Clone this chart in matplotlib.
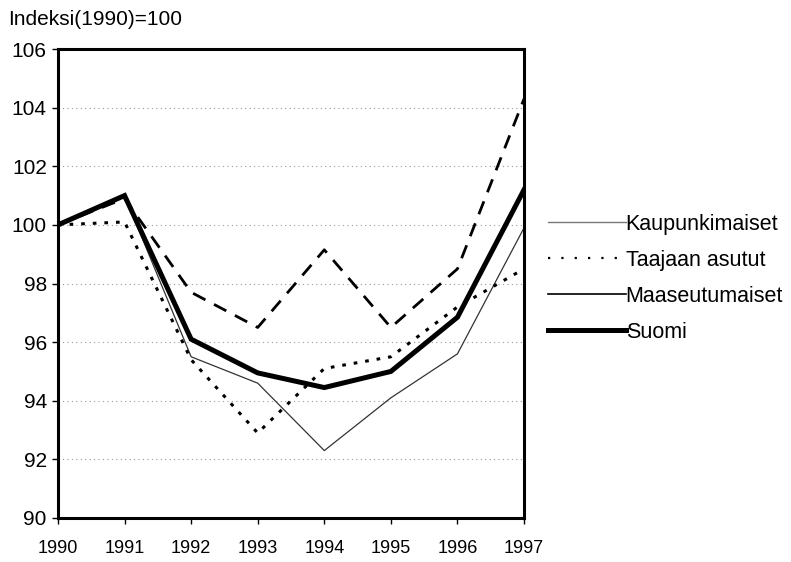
import matplotlib
matplotlib.use("Agg")
import matplotlib.pyplot as plt
from matplotlib.lines import Line2D

years = [1990, 1991, 1992, 1993, 1994, 1995, 1996, 1997]
kaupunkimaiset = [100.0, 101.0, 95.5, 94.6, 92.3, 94.1, 95.6, 99.9]
taajaan_asutut = [100.0, 100.1, 95.4, 92.9, 95.1, 95.5, 97.2, 98.5]
maaseutumaiset = [100.0, 100.9, 97.7, 96.5, 99.15, 96.5, 98.5, 104.3]
suomi = [100.0, 101.0, 96.1, 94.95, 94.45, 95.0, 96.85, 101.2]
labels = ["Kaupunkimaiset", "Taajaan asutut", "Maaseutumaiset", "Suomi"]
yticks = [90, 92, 94, 96, 98, 100, 102, 104, 106]

fig = plt.figure(figsize=(7.91, 5.62), dpi=100)
ax = fig.add_axes([0.0733, 0.0783, 0.5892, 0.8345])

for y in yticks[1:-1]:
    ax.axhline(y, color="#999999", lw=0.8, ls=(0, (1, 3)), zorder=0)

ax.plot(years, kaupunkimaiset, color="#333333", lw=0.9, zorder=2)
ax.plot(years, taajaan_asutut, color="black", lw=2.2, ls=(0, (1.2, 2.6)), zorder=3)
ax.plot(years, maaseutumaiset, color="black", lw=2.0, ls=(0, (5, 3.5)), zorder=3)
ax.plot(years, suomi, color="black", lw=3.6, zorder=4, solid_joinstyle="miter")

ax.set_xlim(1990, 1997)
ax.set_ylim(90, 106)
ax.set_yticks(yticks)
ax.set_xticks(years)
ax.set_yticklabels([str(v) for v in yticks], fontsize=15, fontfamily="Liberation Sans")
ax.set_xticklabels([str(v) for v in years], fontsize=13,
                   fontfamily=["Liberation Sans Narrow", "Liberation Sans"])
ax.tick_params(axis="y", direction="out", length=4, width=1, pad=4)
ax.tick_params(axis="x", direction="out", length=4, width=1, pad=12)
for s in ax.spines.values():
    s.set_linewidth(2.2)

fig.text(0.010, 0.965, "Indeksi(1990)=100", fontsize=15, fontfamily="Liberation Sans",
         ha="left", va="center")

handles = [
    Line2D([], [], color="#777777", lw=1.0),
    Line2D([], [], color="black", lw=1.6, ls=(0, (1, 5))),
    Line2D([], [], color="black", lw=1.2),
    Line2D([], [], color="black", lw=3.6),
]
leg = fig.legend(handles, labels, loc="upper left", bbox_to_anchor=(0.693, 0.62),
                 frameon=False, handlelength=3.6, handletextpad=0.0,
                 labelspacing=0.7, borderaxespad=0, borderpad=0,
                 prop={"family": "Liberation Sans", "size": 15.5})

fig.savefig("out.png", dpi=100)
